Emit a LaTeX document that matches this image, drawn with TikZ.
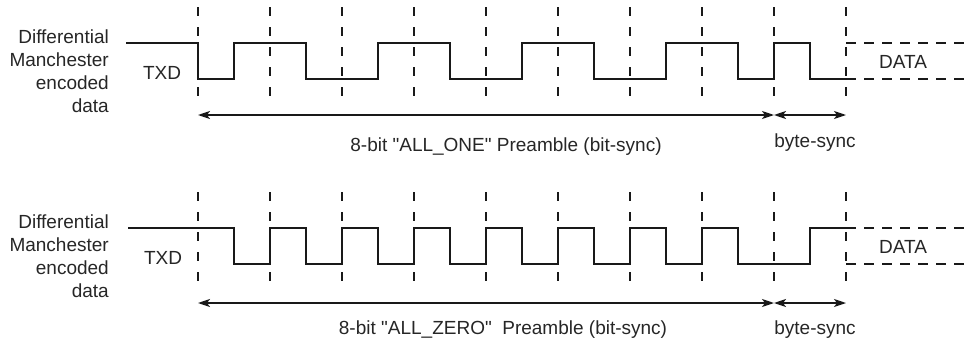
\documentclass[tikz,border=0pt]{standalone}
\usepackage{fontspec}
\setmainfont{Liberation Sans}
\usetikzlibrary{arrows.meta}

\begin{document}
\begin{tikzpicture}[>={Stealth[length=12pt,width=8pt,inset=3pt]},x=1pt,y=-1pt,
  every node/.style={font=\fontsize{19}{23}\selectfont,text=black!85},
  sig/.style={line width=2.4pt,draw=black!90},
  gridline/.style={line width=1.6pt,draw=black!90,dash pattern=on 9pt off 11pt},
  dataline/.style={line width=2.2pt,draw=black!90,dash pattern=on 10pt off 8pt},
  span/.style={line width=1.6pt,draw=black!90,<->}]
  \useasboundingbox (0,0) rectangle (966,340);
  % bit boundaries
  \foreach \k in {0,...,9} {
    \draw[gridline] (198+72*\k,7) -- (198+72*\k,97);
    \draw[gridline] (198+72*\k,192) -- (198+72*\k,282);
  }
  % ALL_ONE preamble
  \draw[sig] (126,43) -| (198,79)
    foreach \k in {0,...,3} { -| (234+144*\k,43) -| (306+144*\k,79) }
    -| (774,43) -| (810,79) -- (846,79);
  \draw[dataline] (846,43) -- (966,43);
  \draw[dataline] (846,79) -- (966,79);
  \node (data1) at (903,62) {DATA};
  % ALL_ZERO preamble
  \draw[sig] (128,228)
    foreach \k in {0,...,6} { -| (234+72*\k,264) -| (270+72*\k,228) }
    -| (738,264) -| (810,228) -- (846,228);
  \draw[dataline] (846,228) -- (966,228);
  \draw[dataline] (846,264) -- (966,264);
  \node (data2) at (903,247) {DATA};
  % labels
  \node[align=right,anchor=east,inner sep=0pt] (lab1) at (109,71)
    {Differential\\Manchester\\encoded\\data};
  \node (txd1) at (162,73) {TXD};
  \node[align=right,anchor=east,inner sep=0pt] (lab2) at (109,256)
    {Differential\\Manchester\\encoded\\data};
  \node (txd2) at (163,258) {TXD};
  % spans
  \coordinate (a0) at (198,115);
  \coordinate (a8) at (774,115);
  \coordinate (a9) at (846,115);
  \draw[span] (a0) -- (a8);
  \draw[span] (a8) -- (a9);
  \node (pre1) at (506,147) {8-bit \textquotedbl ALL\_ONE\textquotedbl{} Preamble (bit-sync)};
  \node (sync1) at (815,143) {byte-sync};
  \coordinate (b0) at (198,303);
  \coordinate (b8) at (774,303);
  \coordinate (b9) at (846,303);
  \draw[span] (b0) -- (b8);
  \draw[span] (b8) -- (b9);
  \node (pre2) at (503,330) {8-bit \textquotedbl ALL\_ZERO\textquotedbl\ \ Preamble (bit-sync)};
  \node (sync2) at (815,330) {byte-sync};
\end{tikzpicture}
\end{document}
